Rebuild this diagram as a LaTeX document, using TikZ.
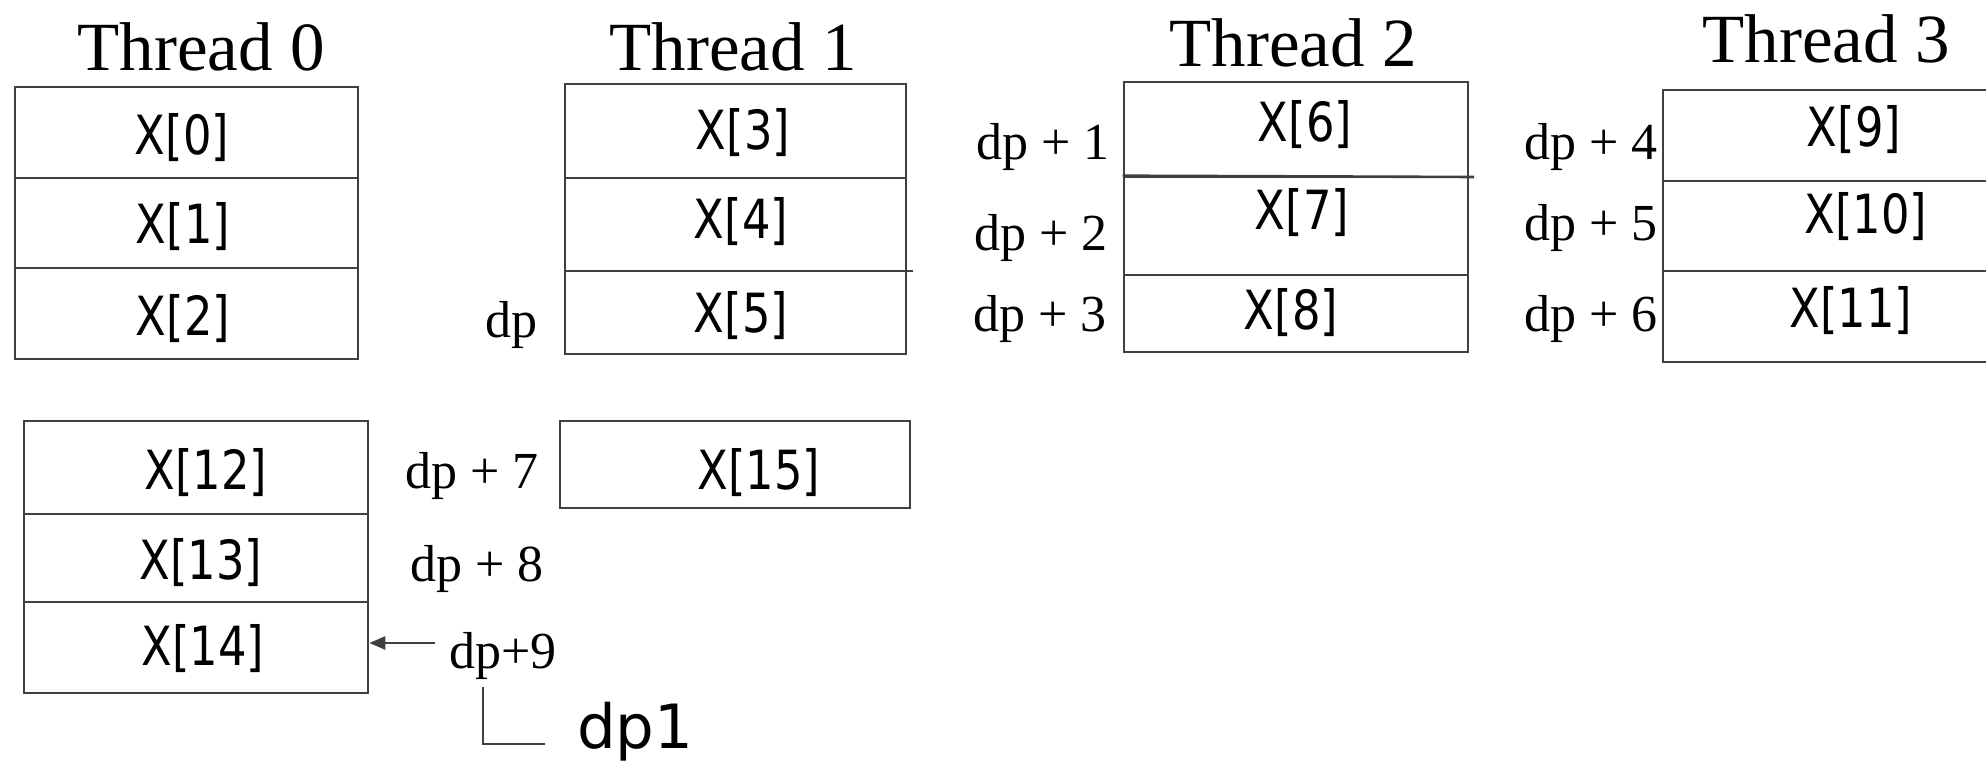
\documentclass[tikz,border=0pt]{standalone}
\usepackage{fontspec}
\setmainfont{Liberation Serif}
\newfontfamily\xlabfont[FakeStretch=0.83]{DejaVu Sans}
\newfontfamily\dponefont{DejaVu Sans}
\usetikzlibrary{fit,arrows.meta}
\tikzset{
  cellbox/.style={draw=black!75, line width=2.6pt, inner sep=0pt, rectangle},
  xlab/.style={font=\xlabfont\fontsize{54}{60}\selectfont, anchor=base, inner sep=0pt},
  dplab/.style={font=\fontsize{52}{58}\selectfont, anchor=base east, inner sep=0pt},
  title/.style={font=\fontsize{69}{75}\selectfont, anchor=base, inner sep=0pt},
  conn/.style={draw=black!75, line width=2.6pt},
}
\begin{document}
\begin{tikzpicture}[x=1pt,y=-1pt]
\useasboundingbox (0,0) rectangle (1986,767);
\fill[white] (0,0) rectangle (1986,767);
% titles
\node[title] (t0) at (201,71) {Thread 0};
\node[title] (t1) at (733,71) {Thread 1};
\node[title] (t2) at (1293,67) {Thread 2};
\node[title] (t3) at (1826,63) {Thread 3};
% thread 0
\node[cellbox, fit={(15,87) (358,178)}] (c0) {};
\node[cellbox, fit={(15,178) (358,268)}] (c1) {};
\node[cellbox, fit={(15,268) (358,359)}] (c2) {};
% thread 1
\node[cellbox, fit={(565,84) (906,178)}] (c3) {};
\node[cellbox, fit={(565,178) (906,271)}] (c4) {};
\node[cellbox, fit={(565,271) (906,354)}] (c5) {};
% thread 2
\node[cellbox, fit={(1124,82) (1468,177)}] (c6) {};
\node[cellbox, fit={(1124,177) (1468,275)}] (c7) {};
\node[cellbox, fit={(1124,275) (1468,352)}] (c8) {};
% thread 3
\node[cellbox, fit={(1663,90) (2010,181)}] (c9) {};
\node[cellbox, fit={(1663,181) (2010,271)}] (c10) {};
\node[cellbox, fit={(1663,271) (2010,362)}] (c11) {};
% bottom
\node[cellbox, fit={(24,421) (368,514)}] (c12) {};
\node[cellbox, fit={(24,514) (368,602)}] (c13) {};
\node[cellbox, fit={(24,602) (368,693)}] (c14) {};
\node[cellbox, fit={(560,421) (910,508)}] (c15) {};
% extended dividers
\coordinate (d5a) at (571,271);
\coordinate (d5b) at (913,271);
\draw[conn] (d5a) -- (d5b);
\coordinate (d7b) at (1474,177);
\draw[conn] (c7.north west) -- (d7b);
% cell texts
\node[xlab] (x0) at (182,155) {X[0]};
\node[xlab] (x1) at (183,244) {X[1]};
\node[xlab] (x2) at (183,335) {X[2]};
\node[xlab] (x3) at (743,150) {X[3]};
\node[xlab] (x4) at (741,239) {X[4]};
\node[xlab] (x5) at (741,332) {X[5]};
\node[xlab] (x6) at (1305,142) {X[6]};
\node[xlab] (x7) at (1302,230) {X[7]};
\node[xlab] (x8) at (1291,330) {X[8]};
\node[xlab] (x9) at (1854,147) {X[9]};
\node[xlab] (x10) at (1866,234) {X[10]};
\node[xlab] (x11) at (1851,327) {X[11]};
\node[xlab] (x12) at (206,489) {X[12]};
\node[xlab] (x13) at (201,579) {X[13]};
\node[xlab] (x14) at (203,665) {X[14]};
\node[xlab] (x15) at (759,489) {X[15]};
% dp labels
\node[dplab] (l0) at (538,337) {dp};
\node[dplab] (l1) at (1110,160) {dp + 1};
\node[dplab] (l2) at (1108,251) {dp + 2};
\node[dplab] (l3) at (1107,331) {dp + 3};
\node[dplab] (l4) at (1658,160) {dp + 4};
\node[dplab] (l5) at (1658,241) {dp + 5};
\node[dplab] (l6) at (1658,331) {dp + 6};
\node[dplab] (l7) at (539,488) {dp + 7};
\node[dplab] (l8) at (544,581) {dp + 8};
\node[dplab] (l9) at (557,668) {dp+9};
% arrow to X[14]
\coordinate (as) at (435,643);
\draw[conn, -{Triangle[length=16pt,width=13pt]}] (as) -- (as -| c14.east);
% bracket to dp1
\coordinate (b1) at (483,687);
\coordinate (b2) at (545,744);
\draw[conn] (b1) |- (b2);
\node[font=\dponefont\fontsize{61}{66}\selectfont, anchor=base west, inner sep=0pt] (dp1) at (577,748) {dp1};
\end{tikzpicture}
\end{document}
